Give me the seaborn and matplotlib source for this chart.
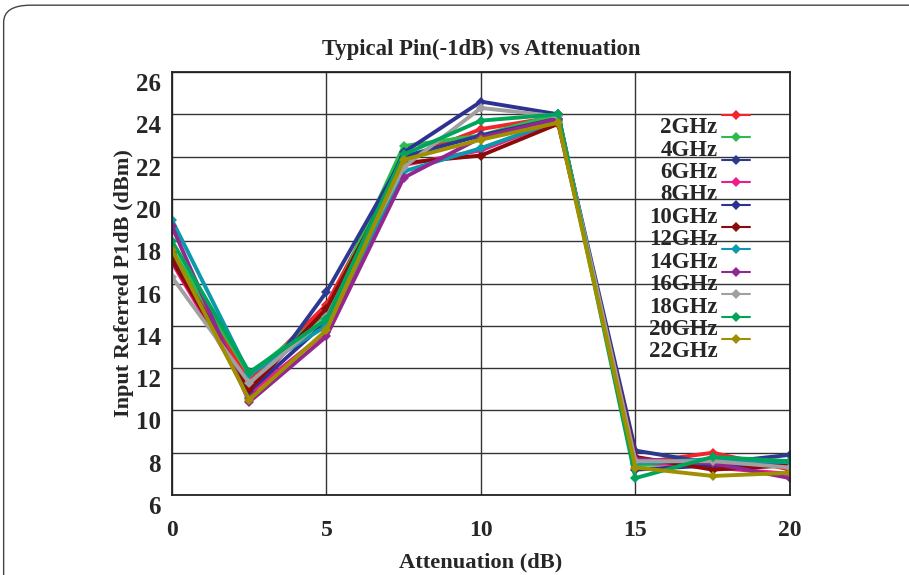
import numpy as np
import pandas as pd
import matplotlib
matplotlib.use("Agg")
import matplotlib.pyplot as plt
import matplotlib.transforms as mtransforms
import seaborn as sns
from matplotlib.patches import FancyBboxPatch
from matplotlib.lines import Line2D
from matplotlib.legend_handler import HandlerLine2D

attenuation = [0, 2.5, 5, 7.5, 10, 12.5, 15, 17.5, 20]
freqs = ["2GHz", "4GHz", "6GHz", "8GHz", "10GHz", "12GHz", "14GHz", "16GHz", "18GHz", "20GHz", "22GHz"]

p_2ghz  = [17.3, 11.4, 15.0, 21.9, 23.3, 23.9, 7.5, 8.0, 7.2]
p_4ghz  = [17.6, 11.7, 14.6, 22.5, 23.0, 24.0, 7.4, 7.6, 7.5]
p_6ghz  = [17.5, 10.6, 15.6, 22.0, 23.0, 23.8, 8.1, 7.5, 7.9]
p_8ghz  = [17.0, 10.8, 13.7, 21.6, 22.3, 23.7, 7.6, 7.3, 7.0]
p_10ghz = [17.4, 10.9, 14.2, 22.2, 24.6, 24.0, 7.2, 7.4, 7.4]
p_12ghz = [17.1, 11.0, 14.8, 21.7, 22.05, 23.55, 7.8, 7.2, 7.4]
p_14ghz = [19.0, 11.7, 14.0, 21.3, 22.4, 23.7, 7.5, 7.7, 7.55]
p_16ghz = [18.7, 10.4, 13.5, 21.0, 22.9, 23.8, 7.7, 7.5, 6.8]
p_18ghz = [16.3, 11.3, 14.4, 21.5, 24.3, 23.9, 7.6, 7.6, 7.3]
p_20ghz = [18.0, 11.8, 14.3, 22.1, 23.7, 24.0, 6.8, 7.8, 7.6]
p_22ghz = [17.6, 10.5, 13.8, 21.85, 22.8, 23.6, 7.3, 6.9, 7.05]

series = [p_2ghz, p_4ghz, p_6ghz, p_8ghz, p_10ghz, p_12ghz, p_14ghz,
          p_16ghz, p_18ghz, p_20ghz, p_22ghz]
colors = ["#F2252F", "#2DBB4E", "#2B3990", "#EC1C8C", "#2E3192", "#8B0A0A",
          "#0A9AAA", "#93278F", "#A0A0A0", "#00A45A", "#A09000"]

rows = []
for f, vals in zip(freqs, series):
    for a, v in zip(attenuation, vals):
        rows.append({"Attenuation": a, "P1dB": v, "Freq": f})
df = pd.DataFrame(rows)

sns.set_theme(style="white")
plt.rcParams["font.family"] = ["Liberation Serif", "DejaVu Serif"]
plt.rcParams["font.weight"] = "bold"

fig = plt.figure(figsize=(9.09, 5.75), dpi=100)
ax = fig.add_axes([0.1892, 0.1391, 0.869 - 0.1892, 0.8748 - 0.1391])

sns.lineplot(data=df, x="Attenuation", y="P1dB", hue="Freq", hue_order=freqs,
             palette=colors, marker="D", markersize=5.5, markeredgewidth=0,
             linewidth=2.8, ax=ax, legend=False)

ax.set_xlim(0, 20)
ax.set_ylim(6, 26)
ax.set_xticks([0, 5, 10, 15, 20])
ax.set_yticks(np.arange(6, 27, 2))
ax.grid(True, color="#333333", linewidth=1.0)
ax.set_axisbelow(True)
for s in ax.spines.values():
    s.set_color("#222222")
    s.set_linewidth(1.3)
ax.tick_params(axis="x", length=0, labelsize=17, pad=18)
ax.tick_params(axis="y", length=0, labelsize=18, pad=8)
shift = mtransforms.ScaledTranslation(0, -0.10, fig.dpi_scale_trans)
for lab in ax.get_yticklabels():
    lab.set_fontweight("bold")
    lab.set_transform(lab.get_transform() + shift)
for lab in ax.get_xticklabels():
    lab.set_fontweight("bold")

ax.set_xlabel("Attenuation (dB)", fontsize=16.2, fontweight="bold", labelpad=8)
ax.set_ylabel("Input Referred P1dB (dBm)", fontsize=16, fontweight="bold", labelpad=1)
ax.set_title("Typical Pin(-1dB) vs Attenuation", fontsize=16.4, fontweight="bold", pad=12)


class RaisedHandler(HandlerLine2D):
    def create_artists(self, legend, orig_handle, xdescent, ydescent,
                       width, height, fontsize, trans):
        return super().create_artists(legend, orig_handle, xdescent,
                                      ydescent - 0.9 * fontsize, width, height,
                                      fontsize, trans)


handles = [Line2D([0], [0], color=c, marker="D", markersize=5, linewidth=1.5,
                  markeredgewidth=0) for c in colors]
leg = ax.legend(handles, freqs, loc="upper right", bbox_to_anchor=(0.968, 0.942),
                frameon=False, markerfirst=False, handlelength=1.2,
                handletextpad=0.2, labelspacing=0.06,
                handler_map={Line2D: RaisedHandler()},
                prop={"family": "Liberation Serif", "weight": "bold", "size": 16.5})

frame = FancyBboxPatch((0.004, -0.1), 1.1, 1.091, transform=fig.transFigure,
                       boxstyle="round,pad=0,rounding_size=0.03",
                       facecolor="none", edgecolor="#444444", linewidth=1.0,
                       clip_on=False)
fig.patches.append(frame)

fig.savefig("out.png", dpi=100)
